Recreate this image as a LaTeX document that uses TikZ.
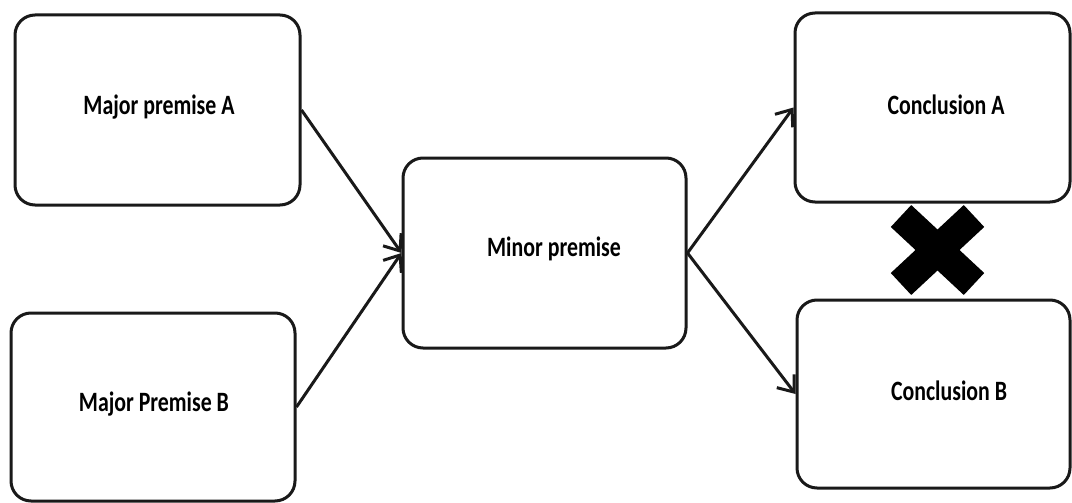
\documentclass[tikz,border=0pt]{standalone}
\usepackage{fontspec}
\setmainfont{Carlito}[FakeStretch=0.78]
\usetikzlibrary{arrows.meta}
\begin{document}
\begin{tikzpicture}[x=1pt,y=-1pt,
  box/.style={draw=black!90, line width=3pt, rounded corners=20pt, fill=white, inner sep=0pt},
  lbl/.style={font=\fontsize{28}{32}\selectfont\bfseries},
  conn/.style={draw=black!90, line width=3pt, -{Straight Barb[length=14pt,width=22pt,line width=3pt]}},
  cross/.style={line width=30pt, line cap=butt, draw=black}]
\useasboundingbox (0,0) rectangle (1072,503);
\fill[white] (0,0) rectangle (1072,503);
% cross mark
\coordinate (x1) at (901,216);
\coordinate (x2) at (974,284);
\coordinate (x3) at (974,216);
\coordinate (x4) at (901,284);
\draw[cross] (x1) -- (x2);
\draw[cross] (x3) -- (x4);
% boxes
\node[box, minimum width=285pt, minimum height=190pt] (A) at (157.5,110) {};
\node[lbl] (tA) at (159,107) {Major premise A};
\node[box, minimum width=284pt, minimum height=188pt] (B) at (153,407) {};
\node[lbl] (tB) at (154,404) {Major Premise B};
\node[box, minimum width=283pt, minimum height=190pt] (M) at (544.5,253) {};
\node[lbl] (tM) at (554,249) {Minor premise};
\node[box, minimum width=275pt, minimum height=189pt] (CA) at (932.5,107.5) {};
\node[lbl] (tCA) at (946,105) {Conclusion A};
\node[box, minimum width=273pt, minimum height=188pt] (CB) at (933.5,394) {};
\node[lbl] (tCB) at (949,391) {Conclusion B};
% connectors
\draw[conn] (A.east) -- (M.west);
\draw[conn] (B.east) -- (M.west);
\draw[conn] (M.east) -- (CA.west);
\draw[conn] (M.east) -- (CB.west);
\end{tikzpicture}
\end{document}
